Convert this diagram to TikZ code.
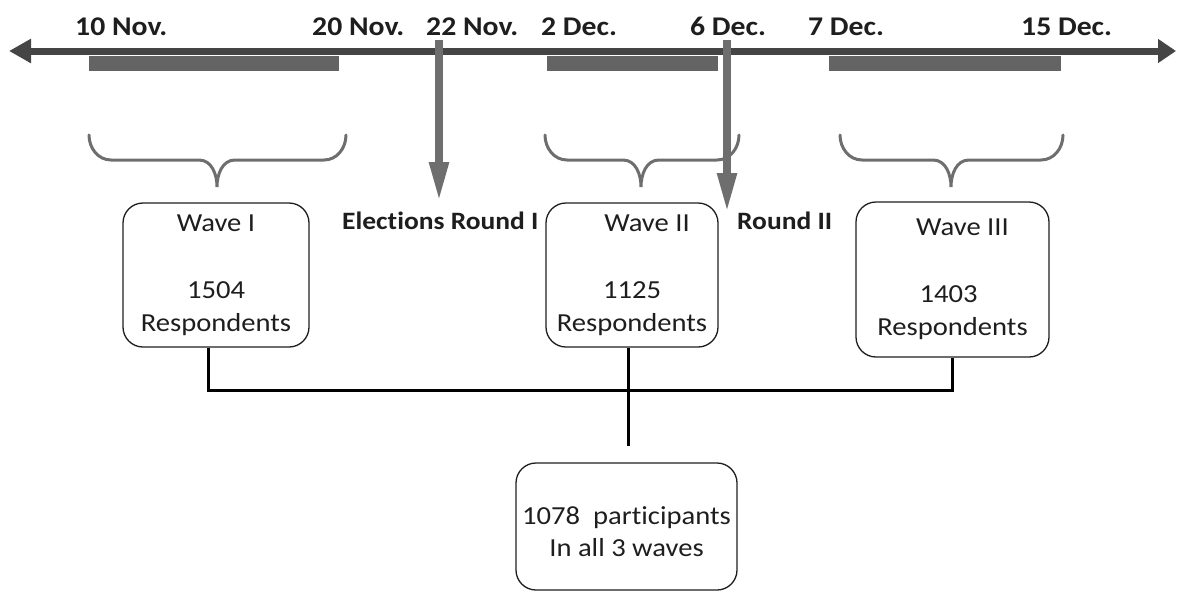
\documentclass[tikz,border=0pt]{standalone}
\usepackage{fontspec}
\setmainfont{Carlito}[FakeStretch=1.1,Ligatures=NoCommon]
\usetikzlibrary{arrows.meta}
\definecolor{axisgray}{HTML}{454545}
\definecolor{bargray}{HTML}{646464}
\definecolor{markgray}{HTML}{6E6E6E}
\definecolor{inkgray}{HTML}{1E1E1E}
\tikzset{
    datelabel/.style={anchor=base west,inner sep=0pt,text=inkgray,
        font=\bfseries\fontsize{27}{30}\selectfont},
    roundlabel/.style={anchor=base west,inner sep=0pt,text=inkgray,
        font=\bfseries\fontsize{25}{30}\selectfont},
    wavebox/.style={draw=inkgray,line width=1.3pt,rounded corners=20pt,
        align=center,inner sep=0pt,text=inkgray,
        font=\fontsize{26}{33}\selectfont},
    periodbar/.style={fill=bargray},
    wavebrace/.style={draw=markgray,line width=3pt,line cap=round},
    votearrow/.style={draw=markgray,line width=8pt,
        -{Triangle[length=40pt,width=18pt]}},
    link/.style={draw=black,line width=3pt}
}
\begin{document}
\begin{tikzpicture}[x=1pt,y=1pt]
    \useasboundingbox (0,0) rectangle (1177,-592);

    % time axis and survey periods
    \foreach \xa/\xb in {89/339, 547/718, 829/1061}
        \fill[periodbar] (\xa,-56) rectangle (\xb,-71);
    \draw[axisgray,line width=7pt,
        {Triangle[length=22pt,width=23pt]}-{Triangle[length=18pt,width=23pt]}]
        (9,-51) -- (1176,-51);

    % dates
    \node[datelabel] (d1) at (75,-35) {10 Nov.};
    \node[datelabel] (d2) at (312,-35) {20 Nov.};
    \node[datelabel] (d3) at (426,-35) {22 Nov.};
    \node[datelabel] (d4) at (541,-35) {2 Dec.};
    \node[datelabel] (d5) at (690,-35) {6 Dec.};
    \node[datelabel] (d6) at (808,-35) {7 Dec.};
    \node[datelabel] (d7) at (1021,-35) {15 Dec.};

    % braces
    \foreach \xa/\xm/\xb in {89/217/346, 545/641/739, 840/951/1063}
        \draw[wavebrace] (\xa,-135) to[out=-90,in=180] (\xa+22,-160)
            -- (\xm-18,-160) to[out=0,in=90] (\xm,-187)
            to[out=90,in=180] (\xm+18,-160) -- (\xb-22,-160)
            to[out=0,in=-90] (\xb,-135);

    % election rounds
    \coordinate (r1top) at (439,-40);
    \coordinate (r1tip) at (439,-202);
    \coordinate (r2top) at (727,-40);
    \coordinate (r2tip) at (727,-213);
    \draw[votearrow] (r1top) -- (r1tip);
    \draw[votearrow] (r2top) -- (r2tip);
    \node[roundlabel] (round1) at (342,-229) {Elections Round I};
    \node[roundlabel] (round2) at (737,-229) {Round II};

    % waves
    \node[wavebox,minimum width=186pt,minimum height=144pt] (wave1) at (216,-275)
        {Wave I\\[34pt]1504\\Respondents};
    \node[wavebox,minimum width=172pt,minimum height=144pt] (wave2) at (632,-275)
        {\hspace*{30pt}Wave II\\[34pt]1125\\Respondents};
    \node[wavebox,minimum width=193pt,minimum height=155pt] (wave3) at (952.5,-279.5)
        {\hspace*{20pt}Wave III\\[34pt]\hspace*{-8pt}1403\\Respondents};
    \node[wavebox,minimum width=221pt,minimum height=127pt] (common) at (626.5,-526.5)
        {\rule{0pt}{28pt}1078\ \ participants\\[-1pt]In all 3 waves};

    % links
    \coordinate (hub) at (628,-390);
    \coordinate (gap) at (628,-446);
    \draw[link] ([xshift=-8pt]wave1.south) |- (hub) -| (wave3.south);
    \draw[link] (wave2.south -| gap) -- (gap);
\end{tikzpicture}
\end{document}
